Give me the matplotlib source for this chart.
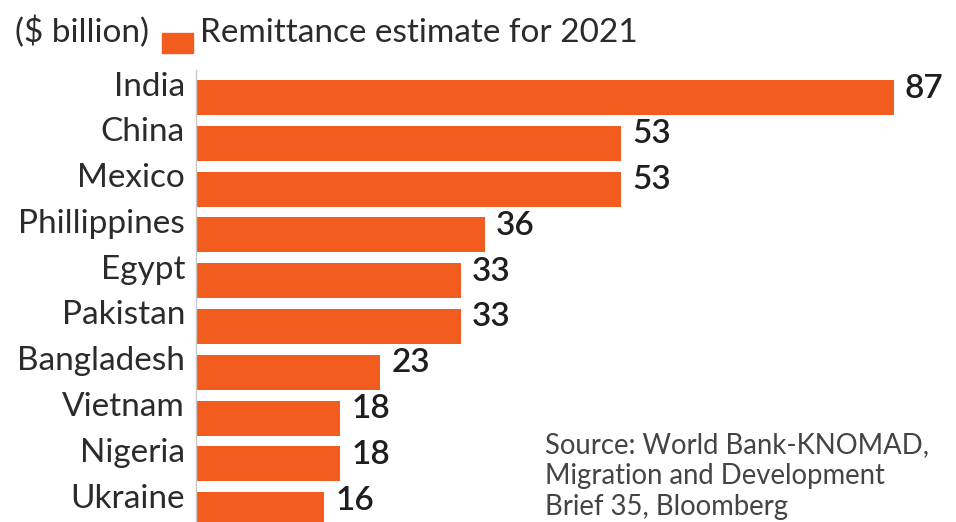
import matplotlib
matplotlib.use("Agg")
import matplotlib.pyplot as plt
import matplotlib.transforms as mtransforms
from matplotlib.patches import Rectangle

# Data (US$ billion, 2021 estimate)
countries = ["India", "China", "Mexico", "Phillippines", "Egypt",
             "Pakistan", "Bangladesh", "Vietnam", "Nigeria", "Ukraine"]
remittances = [87, 53, 53, 36, 33, 33, 23, 18, 18, 16]

legend_label = "Remittance estimate for 2021"
unit_label = "($ billion)"
source_lines = ["Source: World Bank-KNOMAD,",
                "Migration and Development",
                "Brief 35, Bloomberg"]

bar_color = "#F25C1F"
text_color = "#2b2b2b"

plt.rcParams['font.family'] = ['Lato', 'DejaVu Sans']

W, H = 956, 522
fig = plt.figure(figsize=(W / 100, H / 100), dpi=100)
fig.patch.set_facecolor("white")

# axes: left edge at the axis line, scale ~8.02 px per billion
ax_left, ax_top = 196, 70
ax = fig.add_axes([ax_left / W, 0, (W - ax_left) / W, (H - ax_top) / H])
ax.set_xlim(0, (W - ax_left) / 8.02)
pitch = 45.8
ax.set_ylim((H - 97.5) / pitch, -(97.5 - ax_top) / pitch)

ypos = list(range(len(countries)))
ax.barh(ypos, remittances, height=0.76, color=bar_color, linewidth=0)

for s in ["top", "right", "bottom"]:
    ax.spines[s].set_visible(False)
ax.spines["left"].set_color("#c8c8c8")
ax.spines["left"].set_linewidth(1)
ax.set_xticks([])
ax.set_yticks([])

# category labels, right aligned left of the axis
lab_trans = mtransforms.blended_transform_factory(ax.transAxes, ax.transData) + \
    mtransforms.ScaledTranslation(-11 / 100, 2 / 100, fig.dpi_scale_trans)
for y, name in zip(ypos, countries):
    ax.text(0, y, name, transform=lab_trans, ha="right", va="baseline",
            fontsize=24, color=text_color)

# value labels at the end of each bar
val_trans = ax.transData + mtransforms.ScaledTranslation(11 / 100, 0, fig.dpi_scale_trans)
for y, v in zip(ypos, remittances):
    ax.text(v, y, str(v), transform=val_trans, ha="left", va="baseline",
            fontsize=24, fontweight="semibold", color="#1e1e1e")

# legend row
fig.text(15 / W, 1 - 42 / H, unit_label, ha="left", va="baseline",
         fontsize=24, color=text_color)
fig.patches.append(Rectangle((162 / W, 1 - 53 / H), 31 / W, 20 / H,
                             transform=fig.transFigure, color=bar_color, figure=fig))
fig.text(200 / W, 1 - 42 / H, legend_label, ha="left", va="baseline",
         fontsize=24, color=text_color)

# source note
for i, line in enumerate(source_lines):
    fig.text(545 / W, 1 - (453 + 31 * i) / H, line, ha="left", va="baseline",
             fontsize=19.8, color="#444444")

fig.savefig("out.png", dpi=100)
